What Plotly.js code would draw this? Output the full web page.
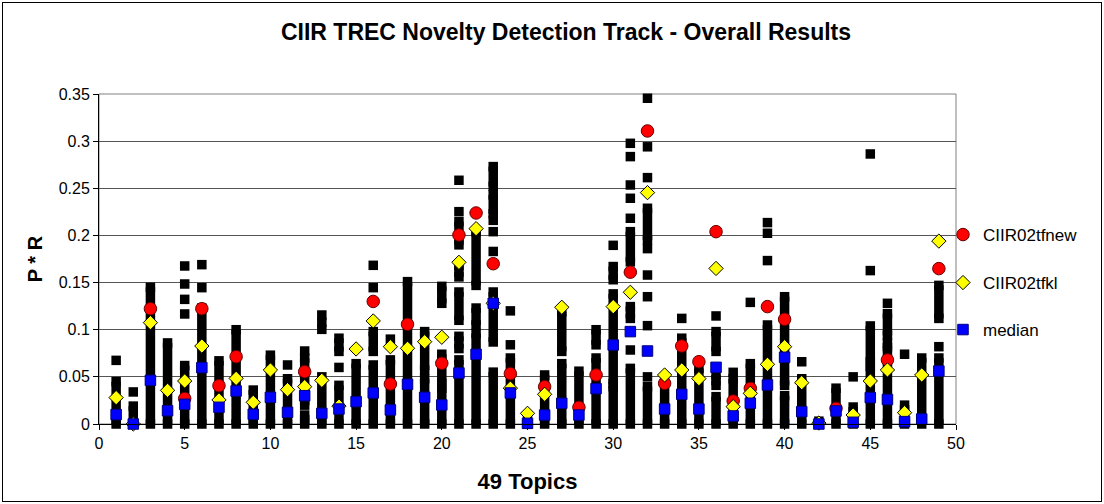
<!DOCTYPE html>
<html><head><meta charset="utf-8">
<script src="https://cdn.plot.ly/plotly-3.0.1.min.js"></script>
<style>
html,body{margin:0;padding:0;background:#fff;}
#frame{position:absolute;left:2px;top:2px;width:1098px;height:498px;border:1px solid #000;}
#chart{width:1098px;height:498px;}
</style></head><body><div id="frame"><div id="chart"></div></div>
<script>
// Topics (x categories)
const topics = [1,2,3,4,5,6,7,8,9,10,11,12,13,14,15,16,17,18,19,20,21,22,23,24,25,
  26,27,28,29,30,31,32,33,34,35,36,37,38,39,40,41,42,43,44,45,46,47,48,49];

// CIIR02tfnew (null = not visible in the picture)
const tfnew = [null,null,0.1223,null,0.027,0.1223,0.0407,0.0714,null,null,null,0.0555,null,null,null,
  0.130,0.0424,0.1057,null,0.0644,0.2005,0.2238,0.170,0.0534,null,0.0396,null,0.0177,0.052,null,
  0.161,0.3108,0.0431,0.0827,0.0661,0.204,0.0244,0.0378,0.1245,0.111,null,null,0.0166,null,null,
  0.068,null,null,0.1648];

// CIIR02tfkl
const tfkl = [0.028,0.0,0.1075,0.0357,0.0456,0.0827,0.0255,0.0484,0.023,0.0573,0.0364,0.0396,0.0463,0.019,0.0796,
  0.1093,0.082,0.0803,0.0873,0.092,0.1715,0.2072,0.128,0.038,0.0113,0.0315,0.1238,null,null,0.1245,
  0.1397,0.2454,0.052,0.0573,0.0481,0.165,0.0184,0.0325,0.0633,0.082,0.0438,0.001,null,0.0095,0.0456,
  0.0573,0.012,0.052,0.194];

// median of all runs
const median = [0.010,0.0,0.0463,0.0141,0.0209,0.0598,0.0177,0.035,0.0103,0.0283,0.0124,0.030,0.0113,0.0159,0.0237,
  0.0329,0.0149,0.0421,0.0283,0.0202,0.0541,0.0739,0.128,0.0329,0.0007,0.0095,0.022,0.0095,0.0375,0.0838,
  0.098,0.0774,0.0159,0.0315,0.0159,0.0601,0.0085,0.022,0.0414,0.0707,0.0131,0.0,0.0138,0.0018,0.028,
  0.026,0.0025,0.0053,0.0562];

// Dense runs of other systems' results: contiguous stacks (topic, lowest, highest)
const stackTopic = [1,2,3,4,5,6,7,8,9,10,11,12,12,13,14,14,15,16,16,17,18,19,19,20,20,20,
  21,21,21,21,21,22,22,22,23,23,23,23,24,25,26,27,27,28,29,29,30,30,30,31,31,31,32,32,
  33,34,35,36,36,36,37,38,39,40,40,41,42,43,44,45,45,46,46,46,47,48,49,49];
const stackLow = [0,0,0,0,0,0,0,0,0,0,0,0.02,0,0,0.077,0,0,0.077,0,0,0,0.057,0,0.128,0.043,0,
  0.190,0.156,0.110,0.080,0,0.147,0.105,0,0.252,0.223,0.087,0,0,0,0,0.077,0,0,0.084,0,0.153,0.043,0,0.172,0.112,0,0.195,0,
  0,0,0,0.077,0.041,0,0,0,0,0.041,0,0,0,0,0,0.066,0,0.094,0.077,0,0,0,0.112,0];
const stackHigh = [0.045,0.019,0.145,0.086,0.062,0.123,0.067,0.100,0.036,0.073,0.048,0.07,0.0095,0.05,0.091,0.041,0.064,0.098,0.0626,0.068,0.151,0.098,0.048,0.146,0.074,0.038,
  0.2146,0.168,0.140,0.093,0.068,0.204,0.123,0.096,0.273,0.243,0.140,0.055,0.070,0.004,0.052,0.119,0.064,0.056,0.100,0.070,0.167,0.138,0.0396,0.204,0.1245,0.059,0.2288,0.0396,
  0.048,0.091,0.059,0.098,0.052,0.029,0.048,0.064,0.105,0.135,0.030,0.048,0.003,0.038,0.018,0.104,0.061,0.117,0.086,0.068,0.020,0.070,0.147,0.070];

// Isolated results of other runs
const runTopic = [1,2,5,5,5,5,6,6,11,12,13,13,13,14,16,16,17,21,21,23,23,23,24,24,30,
  31,31,31,31,31,31,32,32,32,32,32,32,32,32,34,36,37,38,39,39,39,41,44,45,45,46,47,49];
const runValue = [0.0675,0.034,0.1676,0.1485,0.1322,0.1167,0.169,0.1446,0.0626,0.0774,0.1156,0.1078,0.1004,0.060,0.1683,0.1446,0.090,0.2585,0.2252,0.216,0.204,0.183,0.120,0.084,0.1895,
  0.2977,0.2836,0.2535,0.2394,0.2182,0.0785,0.3455,0.294,0.2613,0.186,0.158,0.135,0.1043,0.050,0.112,0.1146,0.0548,0.129,0.2136,0.2023,0.1733,0.066,0.050,0.2864,0.1627,0.128,0.074,0.082];

const yTicks = [0,0.05,0.1,0.15,0.2,0.25,0.3,0.35];
const yTickText = ['0','0.05','0.1','0.15','0.2','0.25','0.3','0.35'];
const xTicks = [0,5,10,15,20,25,30,35,40,45,50];

const FONT = 'Liberation Sans, Arial, sans-serif';

// build stack segments
const sx = [], sy = [];
for (let i = 0; i < stackTopic.length; i++) {
  sx.push(stackTopic[i], stackTopic[i], null);
  sy.push(stackLow[i], stackHigh[i], null);
}

const traces = [
  {type:'scatter', mode:'lines+markers', x:sx, y:sy, showlegend:false, hoverinfo:'skip',
   line:{color:'#000', width:9.5}, marker:{symbol:'square', size:9.5, color:'#000'}, cliponaxis:false, connectgaps:false},
  {type:'scatter', mode:'markers', x:runTopic, y:runValue, showlegend:false,
   marker:{symbol:'square', size:9.5, color:'#000'}, cliponaxis:false},
  {type:'scatter', mode:'markers', name:'CIIR02tfnew', x:topics, y:tfnew, legend:'legend',
   marker:{symbol:'circle', size:12.5, color:'#ff0000', line:{color:'#600', width:1}}, cliponaxis:false},
  {type:'scatter', mode:'markers', name:'CIIR02tfkl', x:topics, y:tfkl, legend:'legend2',
   marker:{symbol:'diamond', size:11, color:'#ffff00', line:{color:'#000', width:1}}, cliponaxis:false},
  {type:'scatter', mode:'markers', name:'median', x:topics, y:median, legend:'legend3',
   marker:{symbol:'square', size:10.5, color:'#0000ff', line:{color:'#000080', width:1}}, cliponaxis:false}
];

const W = 1098, H = 498;
const L = 96, R = 145, T = 91, B = 77;
function legY(py){ return (424 - py) / 330; }
const legBase = {xanchor:'left', yanchor:'middle', bgcolor:'rgba(0,0,0,0)', borderwidth:0,
  font:{family:FONT, size:17, color:'#000'}, x:(943-99)/857};

const layout = {
  width:W, height:H,
  margin:{l:L, r:R, t:T, b:B, pad:0},
  paper_bgcolor:'#fff', plot_bgcolor:'#fff',
  showlegend:true,
  title:{text:'CIIR TREC Novelty Detection Track - Overall Results', x:(566-3)/W, xanchor:'center',
    y:1-(29/H), yanchor:'middle', font:{family:FONT, size:23, color:'#000', weight:'bold'}},
  xaxis:{range:[0,50], tickvals:xTicks, ticktext:xTicks.map(String), ticks:'outside', ticklen:5, tickcolor:'#000',
    showgrid:false, zeroline:false, showline:true, linecolor:'#000', linewidth:1,
    tickfont:{family:FONT, size:16, color:'#000'},
    title:{text:'49 Topics', font:{family:FONT, size:22, color:'#000', weight:'bold'}, standoff:22}},
  yaxis:{range:[0,0.35], tickvals:yTicks, ticktext:yTickText, ticks:'outside', ticklen:5, tickcolor:'#000',
    showgrid:true, gridcolor:'#555', gridwidth:1, zeroline:false, showline:true, linecolor:'#000', linewidth:1,
    tickfont:{family:FONT, size:16, color:'#000'},
    title:{text:'P * R', font:{family:FONT, size:20, color:'#000', weight:'bold'}, standoff:10}},
  legend:Object.assign({}, legBase, {y:legY(235)}),
  legend2:Object.assign({}, legBase, {y:legY(283)}),
  legend3:Object.assign({}, legBase, {y:legY(330)}),
  shapes:[{type:'rect', xref:'paper', yref:'paper', x0:0, x1:1, y0:0, y1:1, line:{color:'#808080', width:1}, layer:'below'}]
};

Plotly.newPlot('chart', traces, layout, {displayModeBar:false, staticPlot:true});
</script></body></html>
